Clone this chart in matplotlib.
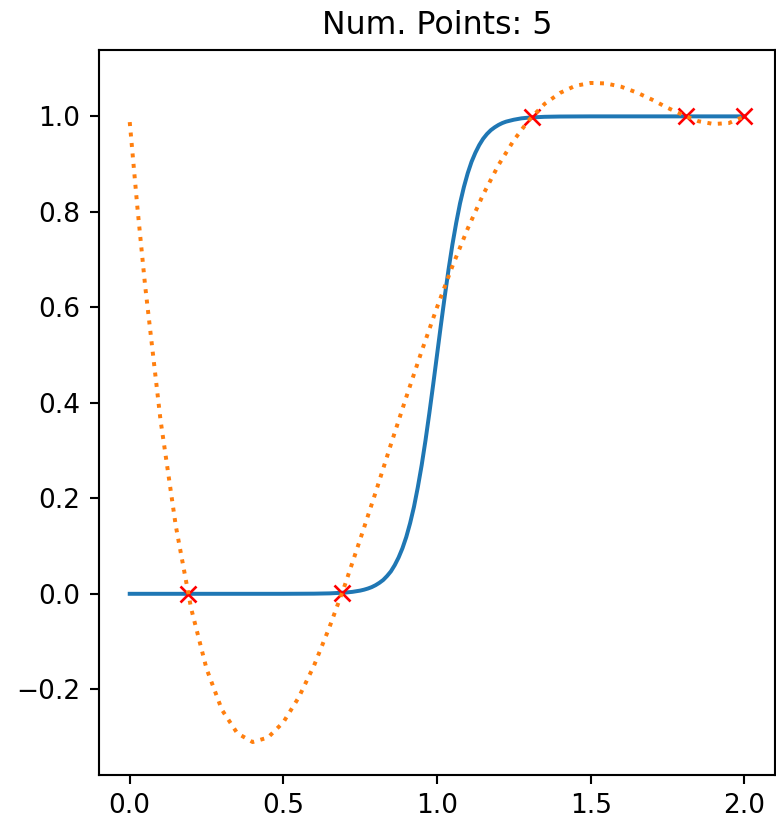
import numpy as np
import matplotlib
matplotlib.use("Agg")
import matplotlib.pyplot as plt

# target function: smooth step around x = 1
step_x = [0.0, 0.5, 0.6, 0.65, 0.7, 0.725, 0.75, 0.7625, 0.775, 0.7875, 0.8,
          0.8125, 0.825, 0.8375, 0.85, 0.8625, 0.875, 0.8875, 0.9, 0.9125,
          0.925, 0.9375, 0.95, 0.9625, 0.975, 0.9875, 1.0, 1.0125, 1.025,
          1.0375, 1.05, 1.0625, 1.075, 1.0875, 1.1, 1.1125, 1.125, 1.1375,
          1.15, 1.1625, 1.175, 1.1875, 1.2, 1.2125, 1.225, 1.2375, 1.25,
          1.275, 1.3, 1.35, 1.4, 1.5, 2.0]
step_y = [0.0, 0.0, 0.0003, 0.0009, 0.0025, 0.0041, 0.0067, 0.0086, 0.011,
          0.014, 0.018, 0.023, 0.029, 0.0373, 0.047, 0.0601, 0.076, 0.0953,
          0.119, 0.148, 0.182, 0.223, 0.269, 0.321, 0.378, 0.438, 0.5, 0.562,
          0.622, 0.679, 0.731, 0.777, 0.818, 0.852, 0.881, 0.905, 0.924,
          0.940, 0.953, 0.963, 0.971, 0.977, 0.982, 0.986, 0.989, 0.991,
          0.993, 0.9959, 0.9975, 0.9991, 0.9997, 1.0, 1.0]

# sample points used for the fit
sample_x = [0.19, 0.69, 1.31, 1.81, 2.0]
sample_y = [0.0, 0.002, 0.998, 1.0, 1.0]

# degree-4 fit through the samples
fit_x = [0.0, 0.025, 0.05, 0.1, 0.15, 0.2, 0.25, 0.3, 0.35, 0.4, 0.45, 0.5,
         0.55, 0.6, 0.65, 0.7, 0.75, 0.8, 0.85, 0.9, 0.95, 1.0, 1.05, 1.1,
         1.15, 1.2, 1.25, 1.3, 1.35, 1.4, 1.45, 1.5, 1.55, 1.6, 1.65, 1.7,
         1.75, 1.8, 1.85, 1.9, 1.95, 2.0]
fit_y = [0.988, 0.809, 0.646, 0.365, 0.142, -0.031, -0.157, -0.243, -0.292,
         -0.3105, -0.301, -0.269, -0.217, -0.150, -0.070, 0.018, 0.114, 0.212,
         0.313, 0.412, 0.508, 0.600, 0.686, 0.765, 0.836, 0.898, 0.950, 0.993,
         1.026, 1.049, 1.064, 1.070, 1.069, 1.062, 1.050, 1.035, 1.018, 1.003,
         0.990, 0.984, 0.986, 1.0]

DPI = 190
fig = plt.figure(figsize=(776 / DPI, 819 / DPI), dpi=DPI)
ax = fig.add_axes([99 / 776, 44 / 819, 676 / 776, 725 / 819])

ax.plot(step_x, step_y, color="C0", lw=1.5)
ax.plot(sample_x, sample_y, "rx", ms=6)
ax.plot(fit_x, fit_y, color="C1", ls=":", lw=1.5)
ax.set_title("Num. Points: 5")

fig.savefig("out.png", dpi=DPI)
